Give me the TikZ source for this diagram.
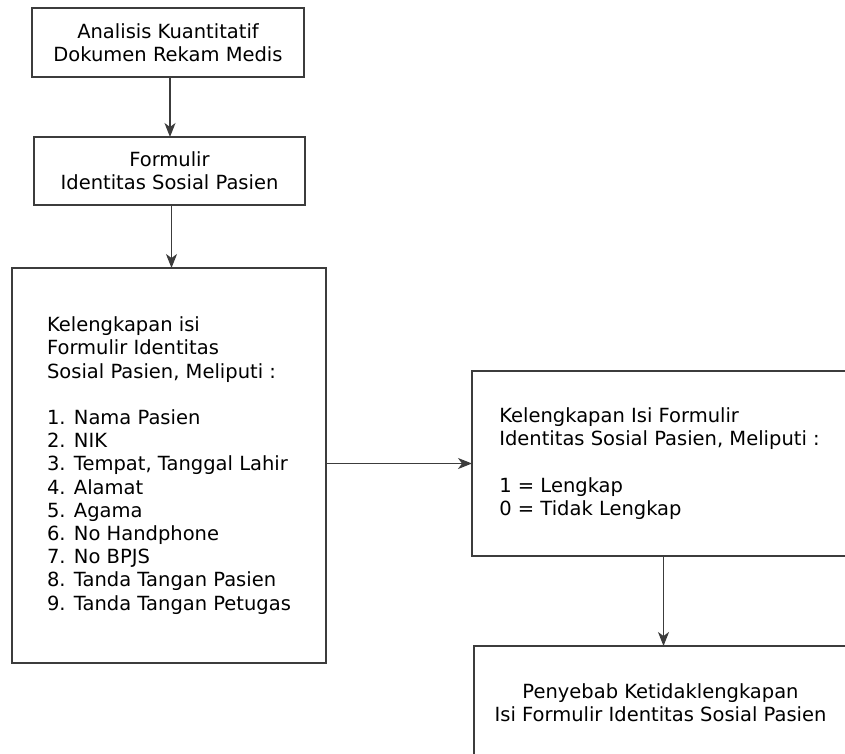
\documentclass[tikz,border=0pt]{standalone}
\usepackage{fontspec}
\setmainfont{DejaVu Sans}
\usetikzlibrary{arrows.meta}
\definecolor{garis}{HTML}{3C3C3C}
\tikzset{
	kotak/.style={draw=garis, line width=1.5pt, anchor=north west, inner sep=0pt, outer sep=0pt, align=center},
	panah/.style={draw=garis, line width=1.4pt, -{Stealth[length=14pt, width=11pt, inset=4pt]}}
}
\begin{document}
\begin{tikzpicture}[x=1pt, y=-1pt, font=\fontsize{19.5}{23.2}\selectfont]
	\useasboundingbox (0,0) rectangle (845,753);
	\clip (0,0) rectangle (845,753);
	\node[kotak, minimum width=272pt, minimum height=69pt] (analisis) at (32,8)
		{Analisis Kuantitatif\\Dokumen Rekam Medis};
	\node[kotak, minimum width=271pt, minimum height=68pt] (formulir) at (34,137)
		{Formulir\\Identitas Sosial Pasien};
	\node[kotak, align=left, minimum width=314pt, minimum height=395pt] (kelengkapan) at (12,268)
		{Kelengkapan isi\\Formulir Identitas\\Sosial Pasien, Meliputi :\\[23.2pt]
		1. Nama Pasien\\2. NIK\\3. Tempat, Tanggal Lahir\\4. Alamat\\5. Agama\\
		6. No Handphone\\7. No BPJS\\8. Tanda Tangan Pasien\\9. Tanda Tangan Petugas};
	\node[kotak, align=left, minimum width=375pt, minimum height=185pt] (hasil) at (472,371)
		{Kelengkapan Isi Formulir\\Identitas Sosial Pasien, Meliputi :\\[23.2pt]
		1 = Lengkap\\0 = Tidak Lengkap};
	\node[kotak, minimum width=373pt, minimum height=114pt] (penyebab) at (474,646)
		{Penyebab Ketidaklengkapan\\Isi Formulir Identitas Sosial Pasien};
	\foreach \dari/\ke in {analisis/formulir, formulir/kelengkapan}
		\draw[panah] ([xshift=2pt]\dari.south) -- ([xshift=2pt]\dari.south |- \ke.north);
	\draw[panah] (kelengkapan.east |- hasil.west) -- (hasil.west);
	\draw[panah] ([xshift=4pt]hasil.south) -- ([xshift=4pt]hasil.south |- penyebab.north);
\end{tikzpicture}
\end{document}
